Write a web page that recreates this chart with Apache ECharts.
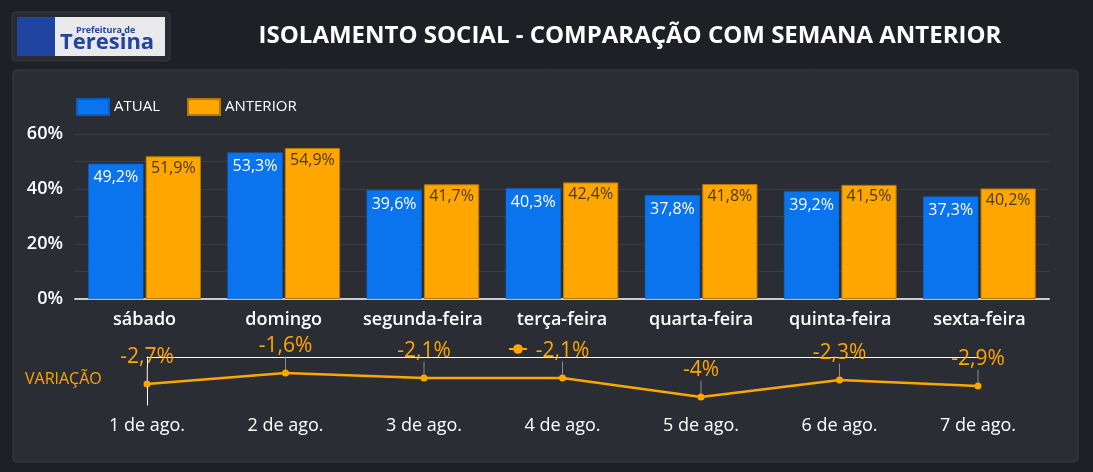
<!DOCTYPE html>
<html>
<head>
<meta charset="utf-8">
<script src="https://cdn.jsdelivr.net/npm/echarts@6/dist/echarts.min.js"></script>
<style>
  html, body { margin: 0; padding: 0; background: #1f2025; }
  #main { width: 1093px; height: 472px; }
</style>
</head>
<body>
<div id="main"></div>
<script>
var dias = ['sábado', 'domingo', 'segunda-feira', 'terça-feira', 'quarta-feira', 'quinta-feira', 'sexta-feira'];
var atual = [49.2, 53.3, 39.6, 40.3, 37.8, 39.2, 37.3];
var anterior = [51.9, 54.9, 41.7, 42.4, 41.8, 41.5, 40.2];
var datas = ['1 de ago.', '2 de ago.', '3 de ago.', '4 de ago.', '5 de ago.', '6 de ago.', '7 de ago.'];
var variacao = [-2.7, -1.6, -2.1, -2.1, -4, -2.3, -2.9];

var AZUL = '#0a74ee';
var LARANJA = '#ffa600';
var fonte = "'Open Sans', sans-serif";

function pct(v) {
    return String(v).replace('.', ',') + '%';
}

var chart = echarts.init(document.getElementById('main'));

var option = {
    backgroundColor: '#1f2025',
    animation: false,
    textStyle: { fontFamily: fonte },
    title: [{
        text: 'ISOLAMENTO SOCIAL - COMPARAÇÃO COM SEMANA ANTERIOR',
        left: 625, top: 19, textAlign: 'center',
        textStyle: { color: '#ffffff', fontSize: 24, fontWeight: 'bold', fontFamily: fonte }
    }, {
        text: 'VARIAÇÃO',
        left: 20, top: 366,
        textStyle: { color: LARANJA, fontSize: 16, fontWeight: 'normal', fontFamily: fonte }
    }],
    graphic: [
        // painel
        { type: 'rect', shape: { x: 13, y: 70, width: 1065, height: 392, r: 4 }, style: { fill: '#2b2d35', stroke: '#3b3d45', lineWidth: 1 }, z: -10 },
        // logo
        { type: 'rect', shape: { x: 12, y: 12, width: 158, height: 49, r: 4 }, style: { fill: '#2a2b31', stroke: '#3a3b42' }, z: -10 },
        { type: 'rect', shape: { x: 17, y: 17, width: 148, height: 39 }, style: { fill: '#e9e9ec' } },
        { type: 'rect', shape: { x: 17, y: 17, width: 38, height: 39 }, style: { fill: '#1f45a0' } },
        { type: 'text', style: { x: 76, y: 26, text: 'Prefeitura de', fill: '#1f45a0', font: 'bold 9px "Open Sans", sans-serif' } },
        { type: 'text', style: { x: 60, y: 32, text: 'Teresina', fill: '#1f45a0', font: 'bold 22px "Open Sans", sans-serif' } }
    ],
    legend: [{
        data: ['ATUAL', 'ANTERIOR'],
        left: 71, top: 93,
        icon: 'rect',
        itemWidth: 32, itemHeight: 16, itemGap: 27,
        textStyle: { color: '#ffffff', fontSize: 15, fontFamily: fonte }
    }, {
        data: ['VARIAÇÃO'],
        left: 503, top: 338,
        itemWidth: 18, itemHeight: 12,
        formatter: function () { return ''; }
    }],
    grid: [
        { left: 75, right: 44, top: 134, bottom: 173 },
        { left: 147, right: 115, top: 357, bottom: 67 }
    ],
    xAxis: [{
        type: 'category', gridIndex: 0, data: dias,
        axisLine: { lineStyle: { color: '#c9cbd0', width: 2 } },
        axisTick: { show: false },
        axisLabel: { color: '#ffffff', fontSize: 18, fontWeight: 600, margin: 12, interval: 0 }
    }, {
        type: 'category', gridIndex: 1, data: datas, boundaryGap: false,
        axisLine: { show: false },
        axisTick: { show: false },
        axisLabel: { color: '#ffffff', fontSize: 18, fontWeight: 500, margin: 12, interval: 0 }
    }, {
        type: 'category', gridIndex: 1, data: datas, boundaryGap: false, position: 'top',
        axisLine: { onZero: false, lineStyle: { color: '#ffffff', width: 1 } },
        axisTick: { show: false },
        axisLabel: { show: false }
    }],
    yAxis: [{
        type: 'value', gridIndex: 0, min: 0, max: 60, interval: 10,
        axisLine: { show: false },
        axisTick: { show: false },
        splitLine: { lineStyle: { color: '#3c3e47' } },
        axisLabel: {
            color: '#ffffff', fontSize: 18, fontWeight: 600, margin: 12,
            formatter: function (v) { return v % 20 === 0 ? v + '%' : ''; }
        }
    }, {
        type: 'value', gridIndex: 1, min: -4.8, max: 0,
        axisLine: { show: true, lineStyle: { color: '#ffffff', width: 1 } },
        axisTick: { show: false },
        splitLine: { show: false },
        axisLabel: { show: false }
    }],
    series: [{
        name: 'ATUAL', type: 'bar', xAxisIndex: 0, yAxisIndex: 0,
        data: atual,
        barGap: '4%', barCategoryGap: '19%',
        itemStyle: { color: AZUL, borderColor: '#0a5ec0', borderWidth: 0.5 },
        label: {
            show: true, position: 'insideTop', distance: 6,
            color: '#ffffff', fontSize: 16,
            formatter: function (p) { return pct(p.value.toFixed(1)); }
        }
    }, {
        name: 'ANTERIOR', type: 'bar', xAxisIndex: 0, yAxisIndex: 0,
        data: anterior,
        itemStyle: { color: LARANJA, borderColor: '#b87800', borderWidth: 1 },
        label: {
            show: true, position: 'insideTop', distance: 4,
            color: '#4a3a14', fontSize: 16,
            formatter: function (p) { return pct(p.value.toFixed(1)); }
        }
    }, {
        name: 'VARIAÇÃO', type: 'line', xAxisIndex: 1, yAxisIndex: 1,
        data: variacao,
        symbol: 'circle', symbolSize: 7,
        lineStyle: { color: LARANJA, width: 2.5 },
        itemStyle: { color: LARANJA },
        label: {
            show: true, position: 'top', distance: 4,
            color: LARANJA, fontSize: 21, fontFamily: fonte,
            formatter: function (p) { return pct(p.value); }
        },
        labelLayout: { dy: -9 },
        labelLine: { show: true, lineStyle: { color: '#8a8c93', width: 1 } }
    }]
};

chart.setOption(option);
</script>
</body>
</html>
